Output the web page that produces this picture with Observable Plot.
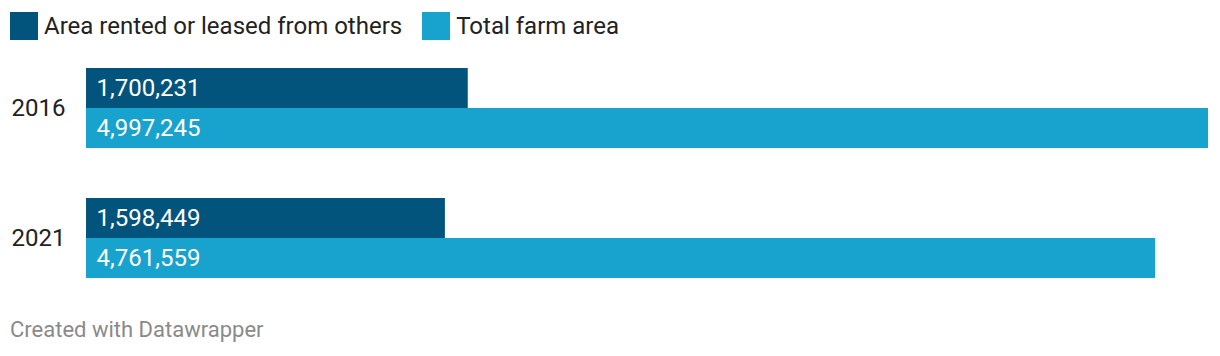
<!DOCTYPE html>
<html>
<head>
<meta charset="utf-8">
<script src="https://cdn.jsdelivr.net/npm/d3@7"></script>
<script src="https://cdn.jsdelivr.net/npm/@observablehq/plot@0.6"></script>
<style>
  html, body { margin: 0; padding: 0; background: #fff; }
  body { width: 1220px; height: 356px; position: relative; font-family: Roboto, sans-serif; overflow: hidden; }
  #legend { position: absolute; left: 10px; top: 12px; display: flex; align-items: center; font-size: 24px; color: #222; line-height: 28px; }
  #legend .item { display: flex; align-items: center; margin-right: 20px; }
  #legend .sw { width: 28px; height: 28px; margin-right: 6px; }
  #chart { position: absolute; left: 0; top: 52px; }
  #footer { position: absolute; left: 10px; top: 316px; font-size: 22px; color: #8a8a8a; line-height: 28px; }
</style>
</head>
<body>
<div id="legend"></div>
<div id="chart"></div>
<div id="footer">Created with Datawrapper</div>
<script>
const years = ["2016", "2021"];
const seriesNames = ["Area rented or leased from others", "Total farm area"];
const rentedValues = [1700231, 1598449];
const totalValues = [4997245, 4761559];
const colors = ["#03547c", "#18a2ce"];

const data = [];
years.forEach((yr, i) => {
  data.push({year: yr, series: seriesNames[0], value: rentedValues[i]});
  data.push({year: yr, series: seriesNames[1], value: totalValues[i]});
});

const legend = document.getElementById("legend");
seriesNames.forEach((s, i) => {
  const it = document.createElement("div");
  it.className = "item";
  it.innerHTML = `<div class="sw" style="background:${colors[i]}"></div><span>${s}</span>`;
  legend.appendChild(it);
});

const fmt = d3.format(",");
const plot = Plot.plot({
  width: 1220,
  height: 240,
  marginLeft: 86,
  marginRight: 12,
  marginTop: 16,
  marginBottom: 14,
  style: {fontFamily: "Roboto, sans-serif", background: "transparent"},
  x: {domain: [0, d3.max(totalValues)], axis: null},
  y: {domain: seriesNames, padding: 0, axis: null},
  fy: {domain: years, paddingInner: 50/130, paddingOuter: 0, label: null},
  color: {domain: seriesNames, range: colors},
  marks: [
    Plot.barX(data, {fy: "year", y: "series", x: "value", fill: "series"}),
    Plot.text(data, {fy: "year", y: "series", x: 0, text: d => fmt(d.value), textAnchor: "start", dx: 10, fill: "white", fontSize: 24}),
    Plot.axisFy({anchor: "left", tickSize: 0, tickPadding: 21, fontSize: 24, color: "#222", label: null})
  ]
});
document.getElementById("chart").appendChild(plot);
</script>
</body>
</html>
